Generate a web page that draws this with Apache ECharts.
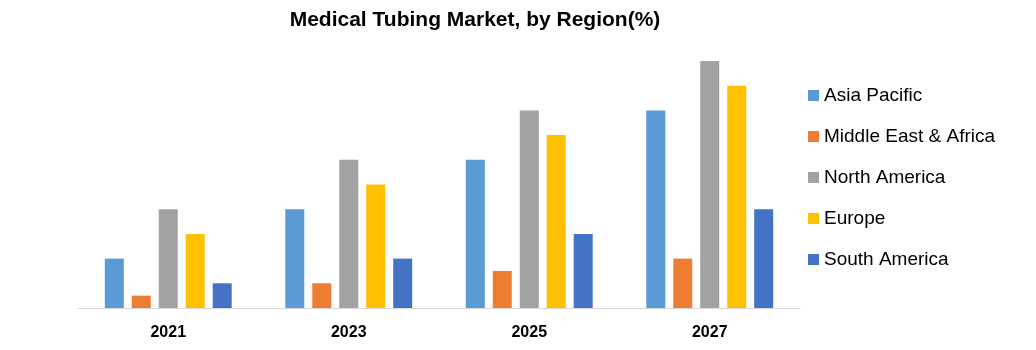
<!DOCTYPE html>
<html>
<head>
<meta charset="utf-8">
<script src="https://cdn.jsdelivr.net/npm/echarts@6/dist/echarts.min.js"></script>
<style>
  html, body { margin: 0; padding: 0; background: #fff; }
  #chart { width: 1036px; height: 350px; }
</style>
</head>
<body>
<div id="chart"></div>
<script>
  // categories and values (share)
  const years = ['2021', '2023', '2025', '2027'];
  const asiaPacific = [4, 8, 12, 16];
  const middleEastAfrica = [1, 2, 3, 4];
  const northAmerica = [8, 12, 16, 20];
  const europe = [6, 10, 14, 18];
  const southAmerica = [2, 4, 6, 8];

  const chart = echarts.init(document.getElementById('chart'));
  const font = 'Liberation Sans, Arial, sans-serif';

  function bar(name, data, color, decal) {
    const s = {
      name: name,
      type: 'bar',
      data: data,
      barWidth: 19,
      barGap: '42%',
      itemStyle: { color: color }
    };
    if (decal) s.itemStyle.decal = decal;
    return s;
  }

  const option = {
    animation: false,
    title: {
      text: 'Medical Tubing Market, by Region(%)',
      left: 470,
      textAlign: 'center',
      top: 5,
      textStyle: { fontFamily: font, fontSize: 21, fontWeight: 'bold', color: '#000' }
    },
    legend: {
      orient: 'vertical',
      left: 803,
      top: 81,
      itemWidth: 11,
      itemHeight: 11,
      itemGap: 22,
      icon: 'rect',
      textStyle: { fontFamily: font, fontSize: 19, color: '#000' },
      data: ['Asia Pacific', 'Middle East & Africa', 'North America', 'Europe', 'South America']
    },
    grid: { left: 78, right: 236, top: 61, bottom: 42 },
    xAxis: {
      type: 'category',
      data: years,
      axisLine: { lineStyle: { color: '#d9d9d9', width: 1 } },
      axisTick: { show: false },
      axisLabel: { fontFamily: font, fontSize: 16, fontWeight: 'bold', color: '#000', margin: 17 }
    },
    yAxis: {
      type: 'value',
      min: 0,
      max: 20,
      show: false,
      splitLine: { show: false }
    },
    series: [
      bar('Asia Pacific', asiaPacific, '#5B9BD5'),
      bar('Middle East & Africa', middleEastAfrica, '#ED7D31'),
      bar('North America', northAmerica, '#A5A5A5', {
        symbol: 'rect', symbolSize: 1, dashArrayX: [1, 1], dashArrayY: [1, 1],
        color: 'rgba(120,120,120,0.25)'
      }),
      bar('Europe', europe, '#FFC000'),
      bar('South America', southAmerica, '#4472C4')
    ]
  };
  chart.setOption(option);
</script>
</body>
</html>
